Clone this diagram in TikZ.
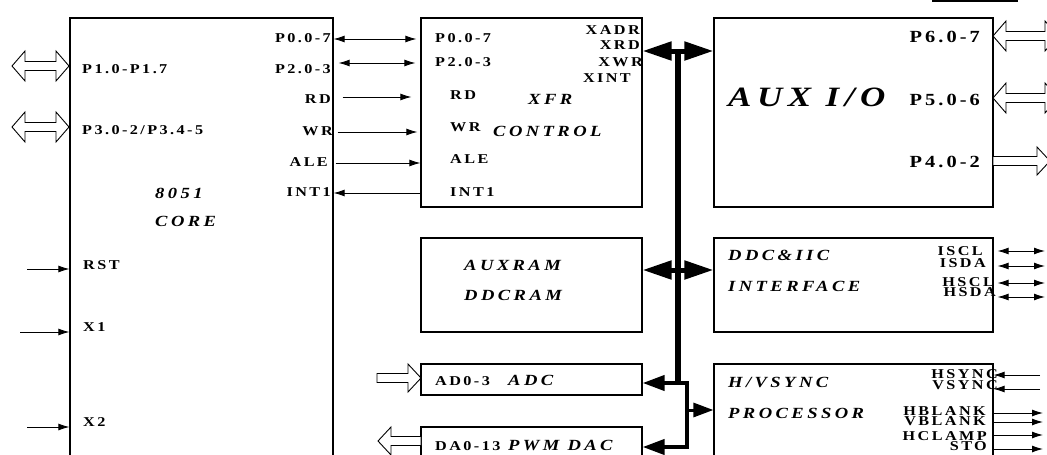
\documentclass[tikz,border=0pt]{standalone}
\usepackage{fontspec}
\setmainfont{Liberation Serif}
\newfontfamily\lsp[LetterSpace=18,FakeStretch=1.2]{Liberation Serif}
\newfontfamily\tsp[LetterSpace=22,FakeStretch=1.2]{Liberation Serif}
\newfontfamily\asp[LetterSpace=20,FakeStretch=1.25]{Liberation Serif}
\usetikzlibrary{arrows.meta,fit,calc}
\newcommand\labf{\lsp\bfseries\fontsize{13.5}{14}\selectfont}
\newcommand\labbig{\lsp\bfseries\fontsize{17}{18}\selectfont}
\newcommand\ttlf{\tsp\bfseries\itshape\fontsize{15.5}{16}\selectfont}
\newcommand\auxf{\asp\bfseries\itshape\fontsize{28}{30}\selectfont}
\newcommand\hollowboth[3]{%
 \draw[hol] (#1,#3) -- ({#1+13},{#3-15}) -- ({#1+13},{#3-4.5}) -- ({#2-13},{#3-4.5}) -- ({#2-13},{#3-15}) -- (#2,#3) -- ({#2-13},{#3+15}) -- ({#2-13},{#3+4.5}) -- ({#1+13},{#3+4.5}) -- ({#1+13},{#3+15}) -- cycle;}
\newcommand\hollowright[3]{%
 \draw[hol] (#1,{#3-4.5}) -- ({#2-13},{#3-4.5}) -- ({#2-13},{#3-14}) -- (#2,#3) -- ({#2-13},{#3+14}) -- ({#2-13},{#3+4.5}) -- (#1,{#3+4.5}) -- cycle;}
\newcommand\hollowleft[3]{%
 \draw[hol] (#2,{#3-4.5}) -- ({#1+13},{#3-4.5}) -- ({#1+13},{#3-14}) -- (#1,#3) -- ({#1+13},{#3+14}) -- ({#1+13},{#3+4.5}) -- (#2,{#3+4.5}) -- cycle;}
\begin{document}
\begin{tikzpicture}[x=1pt,y=-1pt,
 box/.style={draw, line width=1.2pt, inner sep=0pt},
 lab/.style={font=\labf, inner sep=0pt},
 labb/.style={font=\labbig, inner sep=0pt},
 ttl/.style={font=\ttlf, inner sep=0pt},
 hol/.style={draw, line width=0.9pt, fill=white, line join=miter},
 sig/.style={line width=0.9pt, -{Latex[length=11pt,width=7pt]}},
 sigd/.style={line width=0.9pt, {Latex[length=11pt,width=7pt]}-{Latex[length=11pt,width=7pt]}},
 busd/.style={line width=5pt, {Triangle[length=29pt,width=18pt]}-{Triangle[length=29pt,width=18pt]}},
 bus/.style={line width=4pt, -{Triangle[length=22pt,width=15pt]}}
]
\useasboundingbox (0,0) rectangle (1047,455);
\fill[white] (0,0) rectangle (1047,455);

% boxes
\node[box, fit={(70,18) (333,475)}] (core) {};
\node[box, fit={(421,18) (642,207)}] (xfr) {};
\node[box, fit={(421,238) (642,332)}] (aram) {};
\node[box, fit={(421,364) (642,395)}] (adc) {};
\node[box, fit={(421,427) (642,475)}] (dac) {};
\node[box, fit={(714,18) (993,207)}] (aux) {};
\node[box, fit={(714,238) (993,332)}] (ddc) {};
\node[box, fit={(714,364) (993,475)}] (hv) {};

% core labels
\node[lab, anchor=mid east] (c1) at (331,40) {P0.0-7};
\node[lab, anchor=mid east] (c2) at (331,71) {P2.0-3};
\node[lab, anchor=mid east] (c3) at (331,101) {RD};
\node[lab, anchor=mid east] (c4) at (333,133) {WR};
\node[lab, anchor=mid east] (c5) at (328,164) {ALE};
\node[lab, anchor=mid east] (c6) at (331,194) {INT1};
\node[lab, anchor=mid west] (c7) at (82,71) {P1.0-P1.7};
\node[lab, anchor=mid west] (c8) at (82,132) {P3.0-2/P3.4-5};
\node[lab, anchor=mid west] (c9) at (83,267) {RST};
\node[lab, anchor=mid west] (c10) at (83,329) {X1};
\node[lab, anchor=mid west] (c11) at (83,424) {X2};
\node[ttl, anchor=mid west] (c12) at (155,196) {8051};
\node[ttl, anchor=mid west] (c13) at (155,224) {CORE};

% xfr labels
\node[lab, anchor=mid west] (x1) at (435,40) {P0.0-7};
\node[lab, anchor=mid west] (x2) at (435,64) {P2.0-3};
\node[lab, anchor=mid west] (x3) at (450,97) {RD};
\node[lab, anchor=mid west] (x4) at (450,129) {WR};
\node[lab, anchor=mid west] (x5) at (450,161) {ALE};
\node[lab, anchor=mid west] (x6) at (450,194) {INT1};
\node[lab, anchor=mid east] (x7) at (640,32) {XADR};
\node[lab, anchor=mid east] (x8) at (640,47) {XRD};
\node[lab, anchor=mid east] (x9) at (643,64) {XWR};
\node[lab, anchor=mid east] (x10) at (631,80) {XINT};
\node[ttl, anchor=mid west] (x11) at (528,102) {XFR};
\node[ttl, anchor=mid west] (x12) at (493,134) {CONTROL};

% ram, adc, dac
\node[ttl, anchor=mid west] (r1) at (464,268) {AUXRAM};
\node[ttl, anchor=mid west] (r2) at (464,298) {DDCRAM};
\node[lab, anchor=mid west] (a1) at (435,383) {AD0-3};
\node[ttl, anchor=mid west] (a2) at (508,383) {ADC};
\node[lab, anchor=mid west] (d1) at (435,448) {DA0-13};
\node[ttl, anchor=mid west] (d2) at (508,448) {PWM DAC};

% aux i/o
\node[font=\auxf, inner sep=0pt, anchor=mid west] (u1) at (728,104) {AUX I/O};
\node[labb, anchor=mid east] (u2) at (980,40) {P6.0-7};
\node[labb, anchor=mid east] (u3) at (980,103) {P5.0-6};
\node[labb, anchor=mid east] (u4) at (980,165) {P4.0-2};

% ddc
\node[ttl, anchor=mid west] (g1) at (728,258) {DDC\&IIC};
\node[ttl, anchor=mid west] (g2) at (728,289) {INTERFACE};
\node[lab, anchor=mid east] (g3) at (983,253) {ISCL};
\node[lab, anchor=mid east] (g4) at (986,265) {ISDA};
\node[lab, anchor=mid east] (g5) at (994,284) {HSCL};
\node[lab, anchor=mid east] (g6) at (996,294) {HSDA};

% hv
\node[ttl, anchor=mid west] (h1) at (728,385) {H/VSYNC};
\node[ttl, anchor=mid west] (h2) at (728,416) {PROCESSOR};
\node[lab, anchor=mid east] (h3) at (998,376) {HSYNC};
\node[lab, anchor=mid east] (h4) at (998,387) {VSYNC};
\node[lab, anchor=mid east] (h5) at (986,413) {HBLANK};
\node[lab, anchor=mid east] (h6) at (986,423) {VBLANK};
\node[lab, anchor=mid east] (h7) at (987,438) {HCLAMP};
\node[lab, anchor=mid east] (h8) at (987,448) {STO};

% core <-> xfr
\draw[sigd] (core.east |- 0,39) -- ($(xfr.west |- 0,39)+(-4,0)$);
\draw[sigd] ($(core.east |- 0,63)+(5,0)$) -- ($(xfr.west |- 0,63)+(-5,0)$);
\draw[sig] ($(core.east |- 0,97)+(9,0)$) -- ($(xfr.west |- 0,97)+(-9,0)$);
\draw[sig] ($(core.east |- 0,132)+(4,0)$) -- ($(xfr.west |- 0,132)+(-3,0)$);
\draw[sig] ($(core.east |- 0,163)+(2,0)$) -- (xfr.west |- 0,163);
\draw[sig] (xfr.west |- 0,193) -- (core.east |- 0,193);

% core left inputs
\draw[sig] (27,269) -- (core.west |- 0,269);
\draw[sig] (20,332) -- (core.west |- 0,332);
\draw[sig] (27,427) -- (core.west |- 0,427);
\hollowboth{12}{69}{66}
\hollowboth{12}{69}{127}

% adc / dac hollow
\hollowright{377}{421}{378}
\hollowleft{378}{421}{441}

% aux ports
\hollowboth{993}{1058}{36}
\hollowboth{993}{1058}{98}
\hollowright{993}{1050}{161}

% ddc ports
\draw[sigd] ($(ddc.east |- 0,251)+(4,0)$) -- (1045,251);
\draw[sigd] ($(ddc.east |- 0,266)+(4,0)$) -- (1045,266);
\draw[sigd] ($(ddc.east |- 0,283)+(4,0)$) -- (1045,283);
\draw[sigd] ($(ddc.east |- 0,297)+(4,0)$) -- (1045,297);

% hv ports
\draw[sig] (1040,375) -- (hv.east |- 0,375);
\draw[sig] (1040,389) -- (hv.east |- 0,389);
\draw[sig] (hv.east |- 0,413) -- (1043,413);
\draw[sig] (hv.east |- 0,422) -- (1043,422);
\draw[sig] (hv.east |- 0,435) -- (1043,435);
\draw[sig] (hv.east |- 0,449) -- (1043,449);

% bus
\draw[line width=6pt] (678,49) -- (678,385);
\draw[busd] (xfr.east |- 0,51) -- (aux.west |- 0,51);
\draw[busd] (aram.east |- 0,270) -- (ddc.west |- 0,270);
\draw[bus] (689,383) -- (adc.east |- 0,383);
\draw[bus, line join=miter] (687,381) -- (687,447) -- (dac.east |- 0,447);
\draw[line width=3pt, -{Triangle[length=20pt,width=14pt]}] (687,410) -- (hv.west |- 0,410);

% fragment at top edge
\draw[line width=2pt] (932,1) -- (1018,1);
\end{tikzpicture}
\end{document}
